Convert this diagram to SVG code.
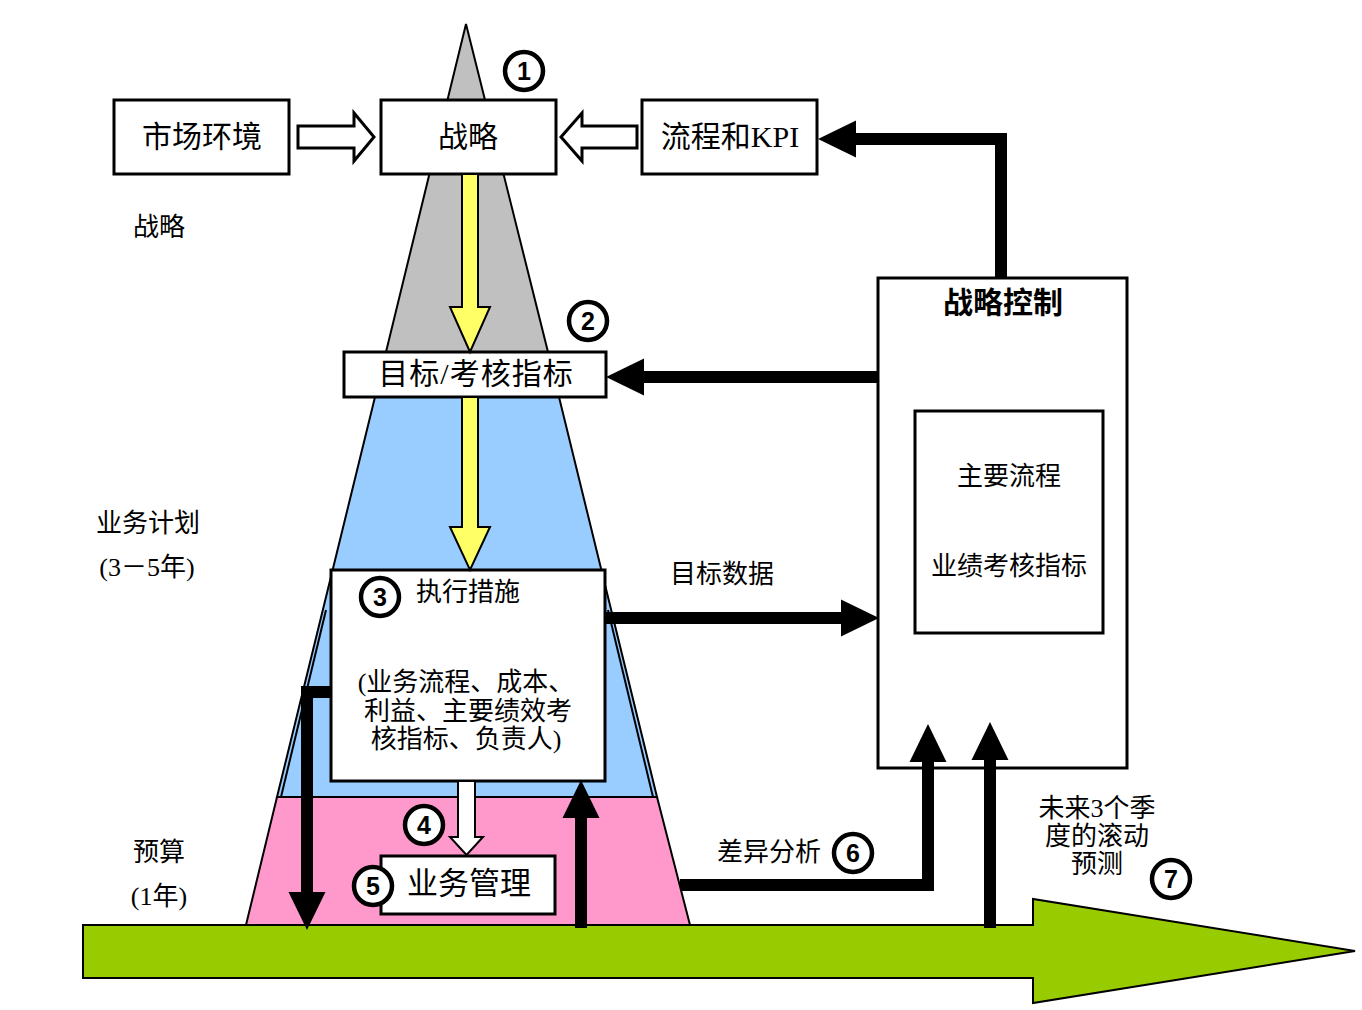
<svg xmlns="http://www.w3.org/2000/svg" width="1362" height="1010" viewBox="0 0 1362 1010">
<style>
.box{fill:#fff;stroke:#000;stroke-width:3}
.t{font-family:"Liberation Serif","Noto Sans CJK SC",serif;fill:#000;text-anchor:middle}
.t26{font-size:26px}
.t30{font-size:30px}
.num{font-family:"Liberation Sans",Arial,sans-serif;font-weight:bold;font-size:25px;text-anchor:middle;fill:#000}
.circ{fill:#fff;stroke:#000;stroke-width:4.5}
.conn{fill:none;stroke:#000;stroke-width:12;stroke-linejoin:miter;stroke-linecap:butt}
.edge{fill:none;stroke:#000;stroke-width:2}
</style>
<defs>
<marker id="ah" markerUnits="userSpaceOnUse" markerWidth="38" markerHeight="38" viewBox="0 0 37 36" refX="1" refY="18" orient="auto">
<path d="M0,0 L37,18 L0,36 z" fill="#000"/>
</marker>
</defs>
<rect width="1362" height="1010" fill="#fff"/>

<g id="timeline">
<polygon points="83,925 1033,925 1033,899 1355,951 1033,1003 1033,978 83,978" fill="#99CC00" stroke="#000" stroke-width="2"/>
</g>

<g id="pyramid">
<polygon points="466,24 548,352 386,352" fill="#C0C0C0" stroke="#000" stroke-width="2"/>
<polygon points="375,397 559,397 657,797 277,797" fill="#99CCFF" stroke="#000" stroke-width="2"/>
<polygon points="277,797 657,797 690,925 246,925" fill="#FF99CC" stroke="#000" stroke-width="2"/>
<line class="edge" x1="326" y1="610" x2="281" y2="797" stroke-width="1.5"/>
<line class="edge" x1="608" y1="610" x2="653" y2="797" stroke-width="1.5"/>
</g>

<g id="market">
<rect class="box" x="114" y="100" width="175" height="74"/>
<text class="t t30" x="202" y="147">市场环境</text>
</g>
<g id="strategy">
<rect class="box" x="381" y="100" width="175" height="74"/>
<text class="t t30" x="468" y="147">战略</text>
</g>
<g id="process-kpi">
<rect class="box" x="642" y="100" width="175" height="74"/>
<text class="t t30" x="730" y="147">流程和KPI</text>
</g>
<g id="targets">
<rect class="box" x="344" y="352" width="262" height="45"/>
<text class="t t30" x="476" y="384" letter-spacing="1">目标/考核指标</text>
</g>
<g id="measures">
<rect class="box" x="331" y="570" width="274" height="211"/>
<text class="t t26" x="468" y="601">执行措施</text>
<text class="t t26" x="466" y="691">(业务流程、成本、</text>
<text class="t t26" x="468" y="720">利益、主要绩效考</text>
<text class="t t26" x="466" y="748">核指标、负责人)</text>
</g>
<g id="business-mgmt">
<rect class="box" x="381" y="856" width="174" height="58"/>
<text class="t" font-size="31" x="469" y="894">业务管理</text>
</g>
<g id="strategic-control">
<rect class="box" x="878" y="278" width="249" height="490"/>
<text class="t t30" x="1003" y="313" font-weight="bold">战略控制</text>
</g>
<g id="main-process">
<rect class="box" x="915" y="411" width="188" height="222"/>
<text class="t t26" x="1009" y="485">主要流程</text>
<text class="t t26" x="1009" y="575">业绩考核指标</text>
</g>

<g id="connectors">
<polygon points="462,174 478,174 478,307 490,307 470,352 450,307 462,307" fill="#FFFF66" stroke="#000" stroke-width="2"/>
<polygon points="462,397 478,397 478,527 490,527 470,570 450,527 462,527" fill="#FFFF66" stroke="#000" stroke-width="2"/>
<polygon points="458,781 475,781 475,837 483,837 466.5,855 450,837 458,837" fill="#fff" stroke="#000" stroke-width="2"/>
<polygon points="298,126 354,126 354,113 374,137 354,161 354,148 298,148" fill="#fff" stroke="#000" stroke-width="3"/>
<polygon points="637,126 582,126 582,113 561,137 582,161 582,148 637,148" fill="#fff" stroke="#000" stroke-width="3"/>
<path class="conn" d="M1001,278 V139 H855" marker-end="url(#ah)"/>
<path class="conn" d="M878,377 H643" marker-end="url(#ah)"/>
<path class="conn" d="M606,618 H842" marker-end="url(#ah)"/>
<path class="conn" d="M680,885 H928 V761" marker-end="url(#ah)"/>
<path class="conn" d="M990,928 V759" marker-end="url(#ah)"/>
<path class="conn" d="M581,928 V817" marker-end="url(#ah)"/>
<path class="conn" d="M331,692 H307 V893" marker-end="url(#ah)"/>
</g>

<g id="labels">
<text class="t t26" x="159" y="236">战略</text>
<text class="t t26" x="148" y="532">业务计划</text>
<text class="t t26" x="147" y="576">(3－5年)</text>
<text class="t t26" x="159" y="861">预算</text>
<text class="t t26" x="159" y="905">(1年)</text>
<text class="t t26" x="722" y="583">目标数据</text>
<text class="t t26" x="769" y="861">差异分析</text>
<text class="t t26" x="1097" y="817">未来3个季</text>
<text class="t t26" x="1097" y="845">度的滚动</text>
<text class="t t26" x="1097" y="873">预测</text>
</g>

<g id="numbers">
<circle class="circ" cx="524" cy="71" r="19"/><text class="num" x="524" y="80">1</text>
<circle class="circ" cx="588" cy="321" r="19"/><text class="num" x="588" y="330">2</text>
<circle class="circ" cx="380" cy="597" r="19"/><text class="num" x="380" y="606">3</text>
<circle class="circ" cx="424" cy="825" r="19"/><text class="num" x="424" y="834">4</text>
<circle class="circ" cx="373" cy="886" r="19"/><text class="num" x="373" y="895">5</text>
<circle class="circ" cx="853" cy="853" r="19"/><text class="num" x="853" y="862">6</text>
<circle class="circ" cx="1171" cy="879" r="19"/><text class="num" x="1171" y="888">7</text>
</g>
</svg>
